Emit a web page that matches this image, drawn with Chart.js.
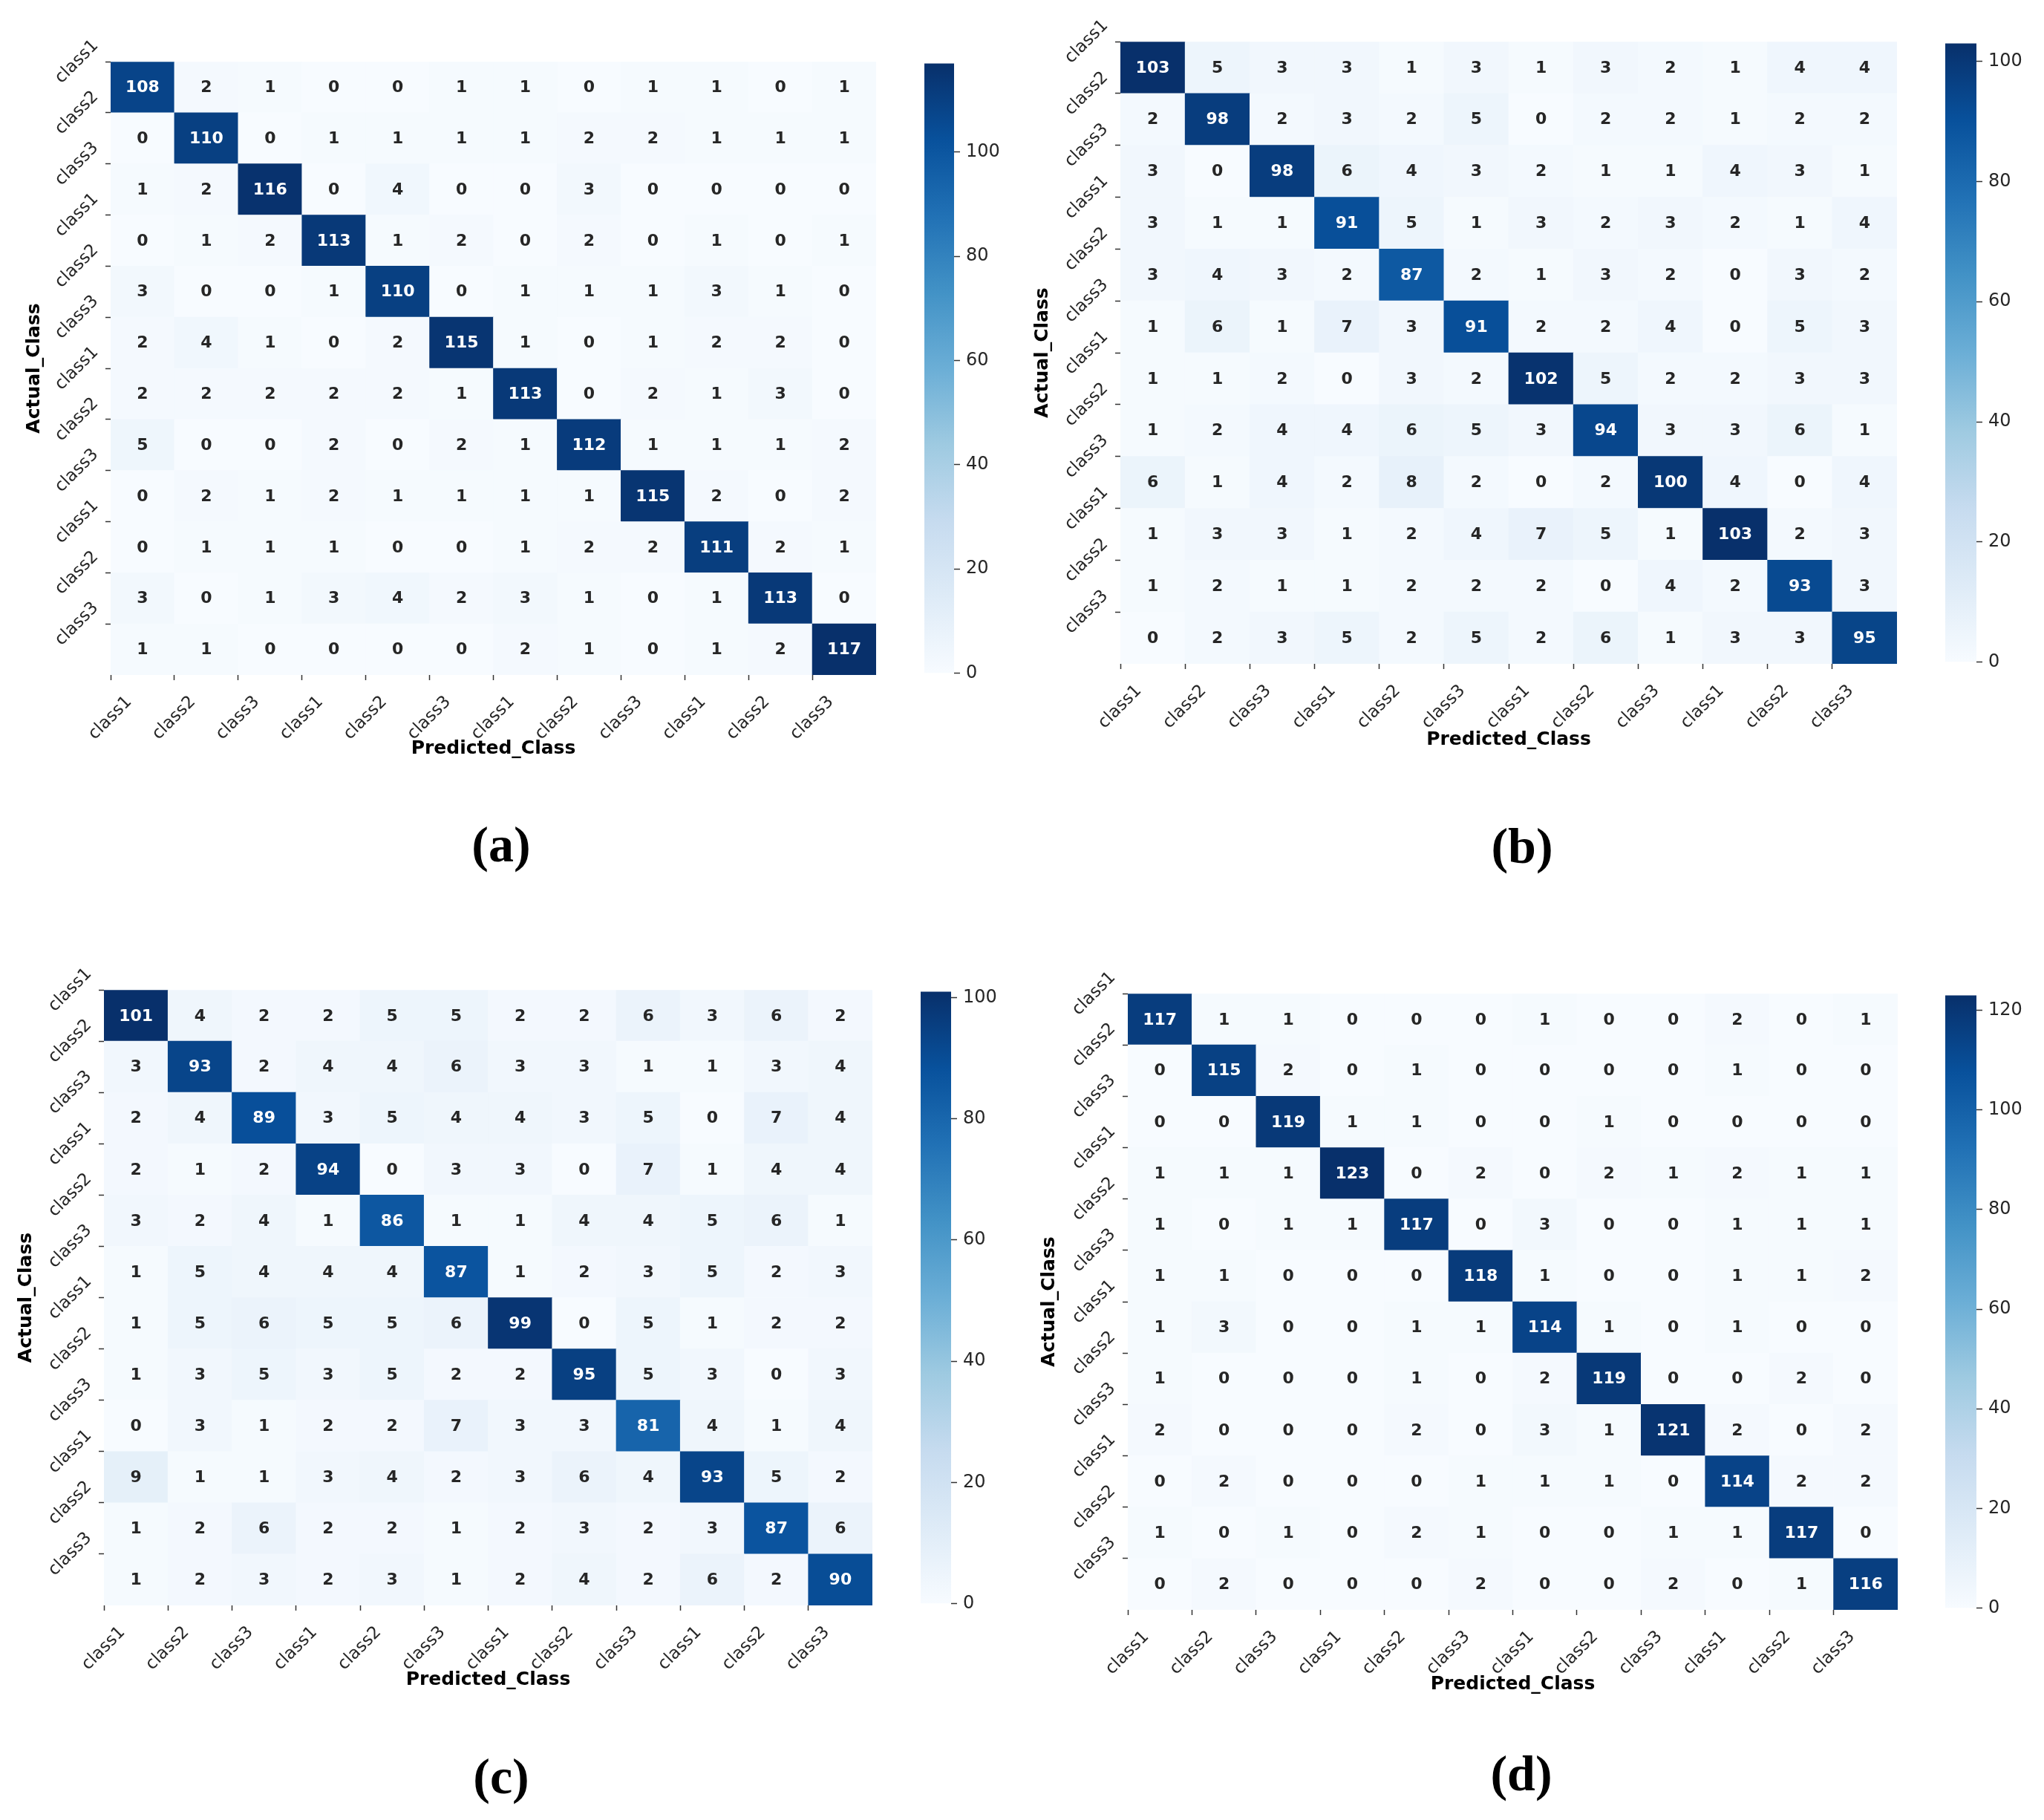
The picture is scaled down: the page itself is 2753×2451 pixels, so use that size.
<!DOCTYPE html>
<html>
<head>
<meta charset="utf-8">
<title>Confusion matrices</title>
<script src="https://cdn.jsdelivr.net/npm/chart.js@4.4.1/dist/chart.umd.min.js"></script>
<style>
  html, body { margin: 0; padding: 0; background: #fff; }
  body { width: 2753px; height: 2451px; position: relative; overflow: hidden; }
  canvas { position: absolute; }
  .tag {
    position: absolute;
    font-family: "Liberation Serif", serif;
    font-weight: bold;
    font-size: 68px;
    color: #000;
    transform: translate(-50%, -50%);
  }
</style>
</head>
<body>
<script>
// category names on both axes
const xLabels = ['class1', 'class2', 'class3', 'class1', 'class2', 'class3',
                 'class1', 'class2', 'class3', 'class1', 'class2', 'class3'];
const yLabels = ['class1', 'class2', 'class3', 'class1', 'class2', 'class3',
                 'class1', 'class2', 'class3', 'class1', 'class2', 'class3'];

// confusion matrices, rows = actual, cols = predicted
const matrixA = [
  [108, 2, 1, 0, 0, 1, 1, 0, 1, 1, 0, 1],
  [0, 110, 0, 1, 1, 1, 1, 2, 2, 1, 1, 1],
  [1, 2, 116, 0, 4, 0, 0, 3, 0, 0, 0, 0],
  [0, 1, 2, 113, 1, 2, 0, 2, 0, 1, 0, 1],
  [3, 0, 0, 1, 110, 0, 1, 1, 1, 3, 1, 0],
  [2, 4, 1, 0, 2, 115, 1, 0, 1, 2, 2, 0],
  [2, 2, 2, 2, 2, 1, 113, 0, 2, 1, 3, 0],
  [5, 0, 0, 2, 0, 2, 1, 112, 1, 1, 1, 2],
  [0, 2, 1, 2, 1, 1, 1, 1, 115, 2, 0, 2],
  [0, 1, 1, 1, 0, 0, 1, 2, 2, 111, 2, 1],
  [3, 0, 1, 3, 4, 2, 3, 1, 0, 1, 113, 0],
  [1, 1, 0, 0, 0, 0, 2, 1, 0, 1, 2, 117]
];
const matrixB = [
  [103, 5, 3, 3, 1, 3, 1, 3, 2, 1, 4, 4],
  [2, 98, 2, 3, 2, 5, 0, 2, 2, 1, 2, 2],
  [3, 0, 98, 6, 4, 3, 2, 1, 1, 4, 3, 1],
  [3, 1, 1, 91, 5, 1, 3, 2, 3, 2, 1, 4],
  [3, 4, 3, 2, 87, 2, 1, 3, 2, 0, 3, 2],
  [1, 6, 1, 7, 3, 91, 2, 2, 4, 0, 5, 3],
  [1, 1, 2, 0, 3, 2, 102, 5, 2, 2, 3, 3],
  [1, 2, 4, 4, 6, 5, 3, 94, 3, 3, 6, 1],
  [6, 1, 4, 2, 8, 2, 0, 2, 100, 4, 0, 4],
  [1, 3, 3, 1, 2, 4, 7, 5, 1, 103, 2, 3],
  [1, 2, 1, 1, 2, 2, 2, 0, 4, 2, 93, 3],
  [0, 2, 3, 5, 2, 5, 2, 6, 1, 3, 3, 95]
];
const matrixC = [
  [101, 4, 2, 2, 5, 5, 2, 2, 6, 3, 6, 2],
  [3, 93, 2, 4, 4, 6, 3, 3, 1, 1, 3, 4],
  [2, 4, 89, 3, 5, 4, 4, 3, 5, 0, 7, 4],
  [2, 1, 2, 94, 0, 3, 3, 0, 7, 1, 4, 4],
  [3, 2, 4, 1, 86, 1, 1, 4, 4, 5, 6, 1],
  [1, 5, 4, 4, 4, 87, 1, 2, 3, 5, 2, 3],
  [1, 5, 6, 5, 5, 6, 99, 0, 5, 1, 2, 2],
  [1, 3, 5, 3, 5, 2, 2, 95, 5, 3, 0, 3],
  [0, 3, 1, 2, 2, 7, 3, 3, 81, 4, 1, 4],
  [9, 1, 1, 3, 4, 2, 3, 6, 4, 93, 5, 2],
  [1, 2, 6, 2, 2, 1, 2, 3, 2, 3, 87, 6],
  [1, 2, 3, 2, 3, 1, 2, 4, 2, 6, 2, 90]
];
const matrixD = [
  [117, 1, 1, 0, 0, 0, 1, 0, 0, 2, 0, 1],
  [0, 115, 2, 0, 1, 0, 0, 0, 0, 1, 0, 0],
  [0, 0, 119, 1, 1, 0, 0, 1, 0, 0, 0, 0],
  [1, 1, 1, 123, 0, 2, 0, 2, 1, 2, 1, 1],
  [1, 0, 1, 1, 117, 0, 3, 0, 0, 1, 1, 1],
  [1, 1, 0, 0, 0, 118, 1, 0, 0, 1, 1, 2],
  [1, 3, 0, 0, 1, 1, 114, 1, 0, 1, 0, 0],
  [1, 0, 0, 0, 1, 0, 2, 119, 0, 0, 2, 0],
  [2, 0, 0, 0, 2, 0, 3, 1, 121, 2, 0, 2],
  [0, 2, 0, 0, 0, 1, 1, 1, 0, 114, 2, 2],
  [1, 0, 1, 0, 2, 1, 0, 0, 1, 1, 117, 0],
  [0, 2, 0, 0, 0, 2, 0, 0, 2, 0, 1, 116]
];

// colorbar tick values
const cbarTicksA = [0, 20, 40, 60, 80, 100];
const cbarTicksB = [0, 20, 40, 60, 80, 100];
const cbarTicksC = [0, 20, 40, 60, 80, 100];
const cbarTicksD = [0, 20, 40, 60, 80, 100, 120];

// page layout of the four panels (pixels)
const panels = [
  { tag: '(a)', data: matrixA, cbar: cbarTicksA, heat: { l: 149, r: 1180, t: 83, b: 909 },
    bar: { l: 1245, r: 1285 }, xTitleY: 1008, yTitleX: 46, tagPos: [675, 1137] },
  { tag: '(b)', data: matrixB, cbar: cbarTicksB, heat: { l: 1509, r: 2555, t: 56, b: 894 },
    bar: { l: 2620, r: 2662 }, xTitleY: 996, yTitleX: 1404, tagPos: [2050, 1139] },
  { tag: '(c)', data: matrixC, cbar: cbarTicksC, heat: { l: 140, r: 1175, t: 1333, b: 2162 },
    bar: { l: 1240, r: 1281 }, xTitleY: 2262, yTitleX: 35, tagPos: [675, 2392] },
  { tag: '(d)', data: matrixD, cbar: cbarTicksD, heat: { l: 1519, r: 2556, t: 1338, b: 2168 },
    bar: { l: 2620, r: 2662 }, xTitleY: 2268, yTitleX: 1413, tagPos: [2049, 2388] }
];

// matplotlib "Blues"
const BLUES = [[247, 251, 255], [222, 235, 247], [198, 219, 239], [158, 202, 225],
               [107, 174, 214], [66, 146, 198], [33, 113, 181], [8, 81, 156], [8, 48, 107]];

function blues(t) {
  t = Math.max(0, Math.min(1, t));
  const s = t * 8;
  const i = Math.min(7, Math.floor(s));
  const f = s - i;
  const a = BLUES[i], b = BLUES[i + 1];
  return [0, 1, 2].map(k => Math.round(a[k] + (b[k] - a[k]) * f));
}

function rgb(c) {
  return 'rgb(' + c[0] + ',' + c[1] + ',' + c[2] + ')';
}

function luminance(c) {
  const v = c.map(x => {
    x /= 255;
    return x <= 0.03928 ? x / 12.92 : Math.pow((x + 0.055) / 1.055, 2.4);
  });
  return 0.2126 * v[0] + 0.7152 * v[1] + 0.0722 * v[2];
}

function makeCanvas(left, top, w, h) {
  const cv = document.createElement('canvas');
  cv.width = w;
  cv.height = h;
  cv.style.left = left + 'px';
  cv.style.top = top + 'px';
  cv.style.width = w + 'px';
  cv.style.height = h + 'px';
  document.body.appendChild(cv);
  return cv;
}

const tickFont = { family: 'DejaVu Sans', size: 23 };
const titleFont = { family: 'DejaVu Sans', size: 25, weight: 'bold' };
const titleLH = 25 * 1.2;

// writes the count in every cell
const annotate = {
  id: 'annotate',
  afterDatasetsDraw(chart) {
    const ds = chart.data.datasets[0];
    const meta = chart.getDatasetMeta(0);
    const ctx = chart.ctx;
    ctx.save();
    ctx.font = 'bold 22px "DejaVu Sans"';
    ctx.textAlign = 'center';
    ctx.textBaseline = 'middle';
    meta.data.forEach((el, i) => {
      const cell = ds.data[i];
      const col = blues(cell.v / ds.vmax);
      ctx.fillStyle = luminance(col) > 0.408 ? '#262626' : '#ffffff';
      const pt = el.getCenterPoint();
      ctx.fillText(String(cell.v), pt.x, pt.y + 1);
    });
    ctx.restore();
  }
};

function heatmap(p) {
  const vmax = Math.max(...p.data.flat());
  const cells = [];
  p.data.forEach((row, r) => {
    row.forEach((v, c) => cells.push({ x: c + 0.5, y: [r, r + 1], v: v }));
  });

  const left = Math.max(0, p.heat.l - 150);
  const top = p.heat.t - 40;
  const right = p.heat.r + 20;
  const bottom = p.xTitleY + 30;
  const cv = makeCanvas(left, top, right - left, bottom - top);

  new Chart(cv, {
    type: 'bar',
    data: {
      datasets: [{
        data: cells,
        vmax: vmax,
        backgroundColor: ctx => rgb(blues(ctx.raw.v / vmax)),
        borderWidth: 0,
        barPercentage: 1,
        categoryPercentage: 1
      }]
    },
    options: {
      responsive: false,
      animation: false,
      layout: { padding: { top: 40, right: 20, left: 0, bottom: 0 } },
      plugins: { legend: { display: false }, tooltip: { enabled: false } },
      scales: {
        x: {
          type: 'linear',
          min: 0,
          max: 12,
          offset: false,
          afterBuildTicks: s => { s.ticks = xLabels.map((_, i) => ({ value: i })); },
          afterFit: s => { s.height = bottom - p.heat.b; },
          ticks: {
            autoSkip: false,
            minRotation: 45,
            maxRotation: 45,
            labelOffset: 25,
            padding: 16,
            color: '#262626',
            font: tickFont,
            callback: v => xLabels[v]
          },
          grid: { drawOnChartArea: false, offset: false, tickLength: 7, tickWidth: 1.5, tickColor: '#333' },
          border: { display: false },
          title: {
            display: true,
            text: 'Predicted_Class',
            color: '#000',
            font: titleFont,
            padding: { top: 0, bottom: bottom - p.xTitleY - titleLH / 2 }
          }
        },
        y: {
          type: 'linear',
          min: 0,
          max: 12,
          reverse: true,
          afterBuildTicks: s => { s.ticks = yLabels.map((_, i) => ({ value: i })); },
          afterFit: s => { s.width = p.heat.l - left; },
          ticks: {
            autoSkip: false,
            minRotation: 45,
            maxRotation: 45,
            labelOffset: -25,
            padding: 13,
            color: '#262626',
            font: tickFont,
            callback: v => yLabels[v]
          },
          grid: { drawOnChartArea: false, tickLength: 7, tickWidth: 1.5, tickColor: '#333' },
          border: { display: false },
          title: {
            display: true,
            text: 'Actual_Class',
            color: '#000',
            font: titleFont,
            padding: { top: p.yTitleX - left - titleLH / 2, bottom: 0 }
          }
        }
      }
    },
    plugins: [annotate]
  });
  return vmax;
}

function colorbar(p, vmax) {
  const left = p.bar.l;
  const top = p.heat.t - 20;
  const axisW = 90;
  const w = (p.bar.r - p.bar.l) + axisW;
  const h = (p.heat.b - p.heat.t) + 40;
  const cv = makeCanvas(left, top, w, h);

  new Chart(cv, {
    type: 'bar',
    data: {
      labels: [''],
      datasets: [{
        data: [[0, vmax]],
        borderWidth: 0,
        barPercentage: 1,
        categoryPercentage: 1,
        backgroundColor: ctx => {
          const a = ctx.chart.chartArea;
          if (!a) return '#ffffff';
          const g = ctx.chart.ctx.createLinearGradient(0, a.bottom, 0, a.top);
          BLUES.forEach((c, i) => g.addColorStop(i / 8, rgb(c)));
          return g;
        }
      }]
    },
    options: {
      responsive: false,
      animation: false,
      layout: { padding: { top: 20, bottom: 20, left: 0, right: 0 } },
      plugins: { legend: { display: false }, tooltip: { enabled: false } },
      scales: {
        x: { display: false },
        y: {
          position: 'right',
          min: 0,
          max: vmax,
          afterBuildTicks: s => { s.ticks = p.cbar.map(v => ({ value: v })); },
          afterFit: s => { s.width = axisW; },
          ticks: { padding: 8, color: '#262626', font: { family: 'DejaVu Sans', size: 24 } },
          grid: { drawOnChartArea: false, tickLength: 8, tickWidth: 1.5, tickColor: '#333' },
          border: { display: false }
        }
      }
    }
  });
}

panels.forEach(p => {
  const vmax = heatmap(p);
  colorbar(p, vmax);
  const t = document.createElement('div');
  t.className = 'tag';
  t.textContent = p.tag;
  t.style.left = p.tagPos[0] + 'px';
  t.style.top = p.tagPos[1] + 'px';
  document.body.appendChild(t);
});
</script>
</body>
</html>
